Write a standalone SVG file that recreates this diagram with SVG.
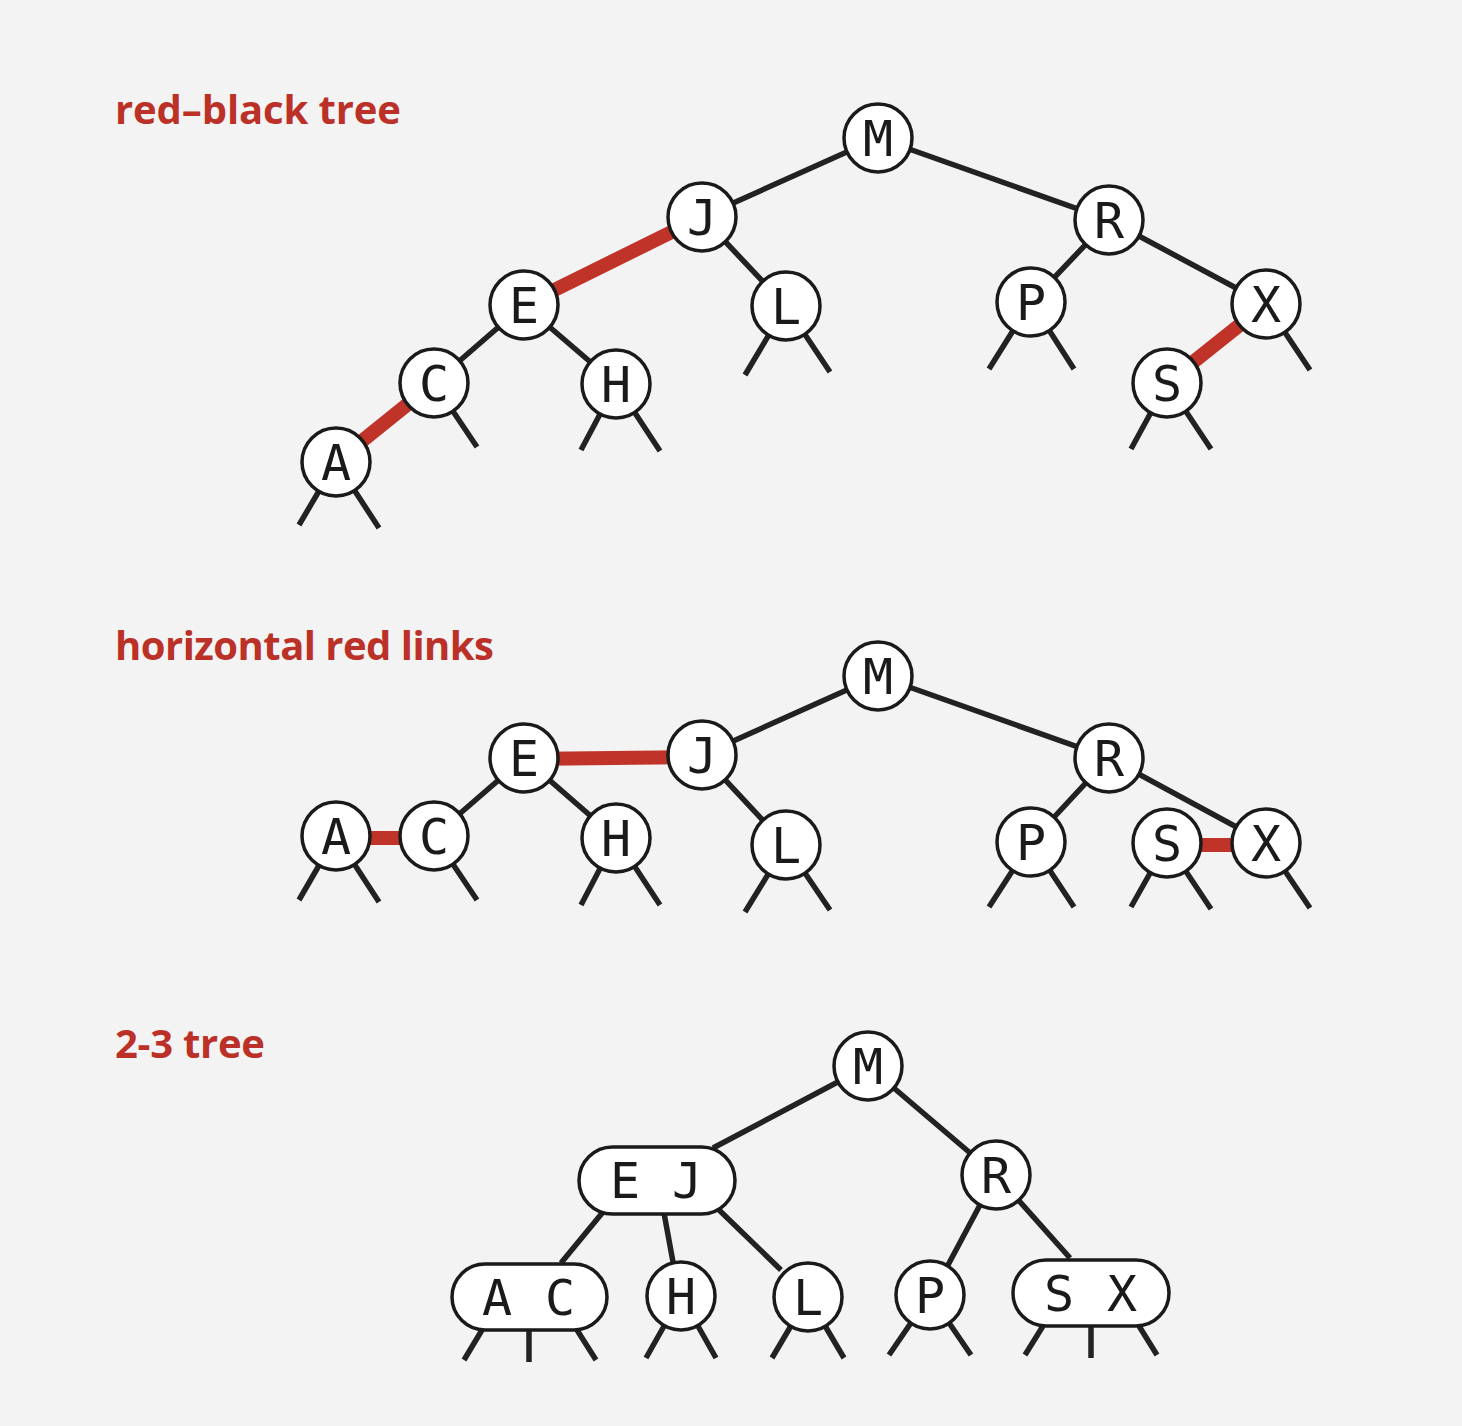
<svg xmlns="http://www.w3.org/2000/svg" width="1462" height="1426" viewBox="0 0 1462 1426">
<style>
.bg{fill:#f3f3f3}
.t{font-family:"Open Sans","Liberation Sans",sans-serif;font-weight:700;font-size:40px;fill:#bb3127}
.e{stroke:#222;stroke-width:5.5;fill:none}
.r{stroke:#bf3328;stroke-width:14;fill:none}
.n{fill:#fff;stroke:#1a1a1a;stroke-width:3.5}
.k{font-family:"DejaVu Sans Mono","Liberation Mono",monospace;font-size:50px;fill:#1a1a1a;text-anchor:middle}
</style>
<rect class="bg" width="1462" height="1426"/>
<text class="t" x="115" y="124" textLength="286">red–black tree</text>
<text class="t" x="115" y="660" textLength="379">horizontal red links</text>
<text class="t" x="115" y="1058" textLength="150">2-3 tree</text>

<g id="connectors">
<path class="e" d="M878 138L702 217M878 138L1109 220M702 217L786 306M524 305L434 383M524 305L616 384M1109 220L1031 302M1109 220L1266 304"/>
<path class="r" d="M702 217L524 305M434 383L336 462M1266 304L1167 383"/>
<path class="e" d="M336 462L299 525M336 462L379 528M434 383L477 447M616 384L581 450M616 384L660 451M786 306L745 375M786 306L830 372M1031 302L989 369M1031 302L1074 369M1266 304L1310 370M1167 383L1131 449M1167 383L1211 449"/>
<path class="e" d="M878 676L702 755M878 676L1109 758M702 755L786 845M524 758L434 836M524 758L616 838M1109 758L1031 842M1109 758L1266 843"/>
<path class="r" d="M702 757L524 759M434 838L336 838M1266 845L1167 845"/>
<path class="e" d="M336 836L299 900M336 836L379 902M434 836L477 900M616 838L581 905M616 838L660 905M786 845L745 912M786 845L830 910M1031 842L989 907M1031 842L1074 907M1167 843L1131 907M1167 843L1211 909M1266 843L1310 908"/>
<path class="e" d="M868 1066L713 1148M868 1066L996 1175M603 1212L561 1263M664 1213L673 1262M717 1208L781 1270M996 1175L948 1265M996 1175L1070 1258"/>
<path class="e" d="M482 1330L464 1360M529 1330L529 1362M577 1330L596 1360M681 1296L646 1358M681 1296L716 1358M808 1297L772 1358M808 1297L844 1358M930 1295L889 1355M930 1295L971 1355M1043 1326L1025 1355M1091 1326L1091 1358M1139 1326L1157 1355"/>
</g>

<g id="t1-M"><circle class="n" cx="878" cy="138" r="34"/><text class="k" x="878" y="156">M</text></g>
<g id="t1-J"><circle class="n" cx="702" cy="217" r="34"/><text class="k" x="702" y="235">J</text></g>
<g id="t1-E"><circle class="n" cx="524" cy="305" r="34"/><text class="k" x="524" y="323">E</text></g>
<g id="t1-C"><circle class="n" cx="434" cy="383" r="34"/><text class="k" x="434" y="401">C</text></g>
<g id="t1-A"><circle class="n" cx="336" cy="462" r="34"/><text class="k" x="336" y="480">A</text></g>
<g id="t1-H"><circle class="n" cx="616" cy="384" r="34"/><text class="k" x="616" y="402">H</text></g>
<g id="t1-L"><circle class="n" cx="786" cy="306" r="34"/><text class="k" x="786" y="324">L</text></g>
<g id="t1-R"><circle class="n" cx="1109" cy="220" r="34"/><text class="k" x="1109" y="238">R</text></g>
<g id="t1-P"><circle class="n" cx="1031" cy="302" r="34"/><text class="k" x="1031" y="320">P</text></g>
<g id="t1-X"><circle class="n" cx="1266" cy="304" r="34"/><text class="k" x="1266" y="322">X</text></g>
<g id="t1-S"><circle class="n" cx="1167" cy="383" r="34"/><text class="k" x="1167" y="401">S</text></g>

<g id="t2-M"><circle class="n" cx="878" cy="676" r="34"/><text class="k" x="878" y="694">M</text></g>
<g id="t2-J"><circle class="n" cx="702" cy="755" r="34"/><text class="k" x="702" y="773">J</text></g>
<g id="t2-E"><circle class="n" cx="524" cy="758" r="34"/><text class="k" x="524" y="776">E</text></g>
<g id="t2-A"><circle class="n" cx="336" cy="836" r="34"/><text class="k" x="336" y="854">A</text></g>
<g id="t2-C"><circle class="n" cx="434" cy="836" r="34"/><text class="k" x="434" y="854">C</text></g>
<g id="t2-H"><circle class="n" cx="616" cy="838" r="34"/><text class="k" x="616" y="856">H</text></g>
<g id="t2-L"><circle class="n" cx="786" cy="845" r="34"/><text class="k" x="786" y="863">L</text></g>
<g id="t2-R"><circle class="n" cx="1109" cy="758" r="34"/><text class="k" x="1109" y="776">R</text></g>
<g id="t2-P"><circle class="n" cx="1031" cy="842" r="34"/><text class="k" x="1031" y="860">P</text></g>
<g id="t2-S"><circle class="n" cx="1167" cy="843" r="34"/><text class="k" x="1167" y="861">S</text></g>
<g id="t2-X"><circle class="n" cx="1266" cy="843" r="34"/><text class="k" x="1266" y="861">X</text></g>

<g id="t3-M"><circle class="n" cx="868" cy="1066" r="34"/><text class="k" x="868" y="1084">M</text></g>
<g id="t3-EJ"><rect class="n" x="579" y="1147" width="156" height="67" rx="33.5"/><text class="k" x="625" y="1198">E</text><text class="k" x="687" y="1198">J</text></g>
<g id="t3-R"><circle class="n" cx="996" cy="1175" r="34"/><text class="k" x="996" y="1193">R</text></g>
<g id="t3-AC"><rect class="n" x="452" y="1264" width="155" height="66" rx="33"/><text class="k" x="497" y="1315">A</text><text class="k" x="560" y="1315">C</text></g>
<g id="t3-H"><circle class="n" cx="681" cy="1296" r="34"/><text class="k" x="681" y="1314">H</text></g>
<g id="t3-L"><circle class="n" cx="808" cy="1297" r="34"/><text class="k" x="808" y="1315">L</text></g>
<g id="t3-P"><circle class="n" cx="930" cy="1295" r="34"/><text class="k" x="930" y="1313">P</text></g>
<g id="t3-SX"><rect class="n" x="1013" y="1260" width="156" height="66" rx="33"/><text class="k" x="1059" y="1311">S</text><text class="k" x="1122" y="1311">X</text></g>
</svg>
